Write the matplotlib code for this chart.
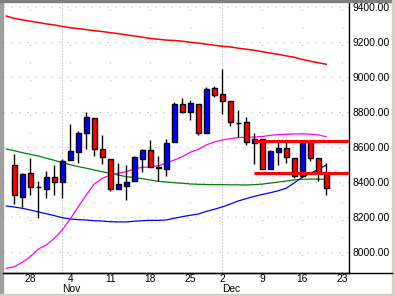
import numpy as np
import matplotlib.pyplot as plt
import pandas as pd
from matplotlib.lines import Line2D
from matplotlib.patches import Rectangle
from matplotlib.transforms import blended_transform_factory

plt.rcParams['font.family'] = ['Liberation Sans', 'DejaVu Sans']

# sessions on the axis: Oct 23 2002 .. Dec 23 2002, market shut on Thanksgiving
sessions = pd.bdate_range('2002-10-23', '2002-12-23')
sessions = sessions[sessions != pd.Timestamp('2002-11-28')]

# daily candles, Oct 24 .. Dec 19
opens = [8495, 8314, 8450, 8368, 8360, 8425, 8397, 8522, 8568, 8677,
         8762, 8585, 8531, 8357, 8377, 8402, 8531, 8581, 8479, 8471,
         8625, 8842, 8800, 8842, 8677, 8934, 8901, 8859, 8734, 8739,
         8619, 8644, 8471, 8571, 8591, 8534, 8434, 8625, 8534, 8444]
highs = [8558, 8450, 8537, 8404, 8463, 8495, 8528, 8730, 8690, 8797,
         8762, 8667, 8531, 8505, 8494, 8545, 8589, 8638, 8547, 8642,
         8854, 8877, 8867, 8842, 8939, 8947, 9044, 8859, 8810, 8768,
         8677, 8644, 8581, 8625, 8625, 8534, 8625, 8638, 8534, 8505]
lows = [8273, 8254, 8324, 8191, 8307, 8326, 8305, 8522, 8505, 8585,
        8547, 8499, 8349, 8357, 8295, 8402, 8457, 8486, 8406, 8434,
        8625, 8794, 8753, 8669, 8677, 8886, 8785, 8720, 8654, 8608,
        8499, 8471, 8471, 8495, 8509, 8423, 8428, 8520, 8406, 8324]
closes = [8324, 8443, 8368, 8368, 8425, 8397, 8516, 8574, 8677, 8768,
          8585, 8539, 8357, 8385, 8397, 8539, 8581, 8486, 8482, 8619,
          8842, 8800, 8848, 8677, 8928, 8894, 8859, 8739, 8734, 8625,
          8644, 8471, 8575, 8591, 8539, 8434, 8625, 8534, 8448, 8366]

# moving averages, Oct 23 .. Dec 19
ma_red = [9347, 9333, 9325, 9317, 9310, 9302, 9296, 9287, 9280, 9275,
          9269, 9263, 9258, 9252, 9246, 9239, 9233, 9226, 9219, 9214,
          9209, 9207, 9203, 9197, 9192, 9186, 9180, 9174, 9170, 9163,
          9157, 9151, 9143, 9135, 9128, 9119, 9111, 9099, 9089, 9080, 9071]
ma_green = [8587, 8577, 8566, 8556, 8547, 8534, 8522, 8509, 8497, 8486,
            8477, 8467, 8457, 8448, 8438, 8429, 8423, 8417, 8410, 8402,
            8398, 8394, 8391, 8387, 8385, 8384, 8383, 8383, 8382, 8382,
            8381, 8383, 8386, 8392, 8398, 8404, 8410, 8414, 8415, 8415, 8412]
ma_blue = [8261, 8255, 8248, 8238, 8227, 8217, 8206, 8194, 8187, 8183,
           8181, 8177, 8175, 8171, 8170, 8170, 8174, 8177, 8179, 8179,
           8181, 8191, 8200, 8208, 8215, 8230, 8242, 8256, 8272, 8290,
           8303, 8316, 8327, 8337, 8348, 8363, 8393, 8425, 8448, 8470, 8495]
ma_magenta = [7905, 7914, 7939, 7971, 8015, 8038, 8076, 8124, 8187, 8257,
              8324, 8387, 8419, 8438, 8448, 8457, 8473, 8482, 8484, 8491,
              8505, 8524, 8543, 8568, 8585, 8610, 8627, 8638, 8646, 8652,
              8654, 8655, 8658, 8665, 8669, 8671, 8673, 8673, 8672, 8667, 8657]

# drawn levels, from Dec 6 to the right edge
resistance = 8634
support = 8451
level_start = '2002-12-06'

yticks = np.arange(8000, 9401, 200)

W, H = 395, 296
fig = plt.figure(figsize=(W / 100, H / 100), dpi=100)
ax = fig.add_axes([3 / W, 23 / H, 346 / W, 271 / H])

pos = np.arange(len(sessions))
cpos = pos[1:1 + len(opens)]
mpos = pos[:len(ma_red)]

px = 0.72  # one pixel in points
grid_c = '#a8a8a8'

for v in yticks:
    ax.axhline(v, color=grid_c, lw=px, ls=(0, (1, 7)), zorder=0)

mondays = [i for i, d in enumerate(sessions) if d.weekday() == 0]
month_first = [i for i in range(1, len(sessions)) if sessions[i].month != sessions[i - 1].month]
for i in mondays:
    if i not in month_first:
        ax.axvline(i, color=grid_c, lw=px, ls=(0, (1, 16.5)), zorder=0)
for i in month_first:
    ax.axvline(i, color=grid_c, lw=px, ls=(0, (1, 2)), zorder=0)

ax.plot(mpos, ma_red, color='#ff0000', lw=1.1, zorder=2)
ax.plot(mpos, ma_green, color='#008000', lw=0.9, zorder=2)
ax.plot(mpos, ma_blue, color='#0000ff', lw=0.9, zorder=2)
ax.plot(mpos, ma_magenta, color='#ff00ff', lw=0.9, zorder=2)

o = np.array(opens); c = np.array(closes)
cols = np.where(c < o, '#ff0000', '#0000ff')
ax.vlines(cpos, lows, highs, color='black', lw=1.0, zorder=3)
ax.bar(cpos, c - o, bottom=o, width=0.6, color=cols, edgecolor='black', lw=1.0, zorder=4)

x0 = sessions.get_loc(pd.Timestamp(level_start))
ax.hlines([resistance, support], x0, pos[-1] + 2, color='#ff0000', lw=2.2, zorder=5)

ax.set_xlim(-0.41, 42.84)
ax.set_ylim(7878, 9427)

fs = 7.4
ax.yaxis.tick_right()
ax.set_yticks(yticks)
ax.set_yticklabels([f'{v:.2f}' for v in yticks], fontsize=fs)
ax.set_xticks(mondays)
ax.set_xticklabels([str(sessions[i].day) for i in mondays], fontsize=fs)
ax.tick_params(axis='x', length=0, pad=1.0)
ax.tick_params(axis='y', length=0, pad=2.2)

tr = blended_transform_factory(ax.transData, ax.transAxes)
for i in month_first:
    ax.text(i - 0.05, -0.042, sessions[i].strftime('%b'), transform=tr,
            ha='left', va='top', fontsize=fs)

for s in ['top', 'left']:
    ax.spines[s].set_visible(False)
for s in ['right', 'bottom']:
    ax.spines[s].set_linewidth(1.0)

# bottom rule runs under the price labels too
fig.add_artist(Line2D([3 / W, 392 / W], [23 / H, 23 / H], color='black', lw=1.0))

# window frame
fig.patches.append(Rectangle((0, 0), 3 / W, 1, transform=fig.transFigure, color='#a0a0a0'))
fig.patches.append(Rectangle((0, 1 - 2 / H), 1, 2 / H, transform=fig.transFigure, color='#808080'))
fig.patches.append(Rectangle((1 - 3 / W, 0), 3 / W, 1, transform=fig.transFigure, color='#d4d0c8'))
fig.patches.append(Rectangle((0, 0), 1, 2 / H, transform=fig.transFigure, color='#d4d0c8'))

fig.savefig('out.png', dpi=100)
